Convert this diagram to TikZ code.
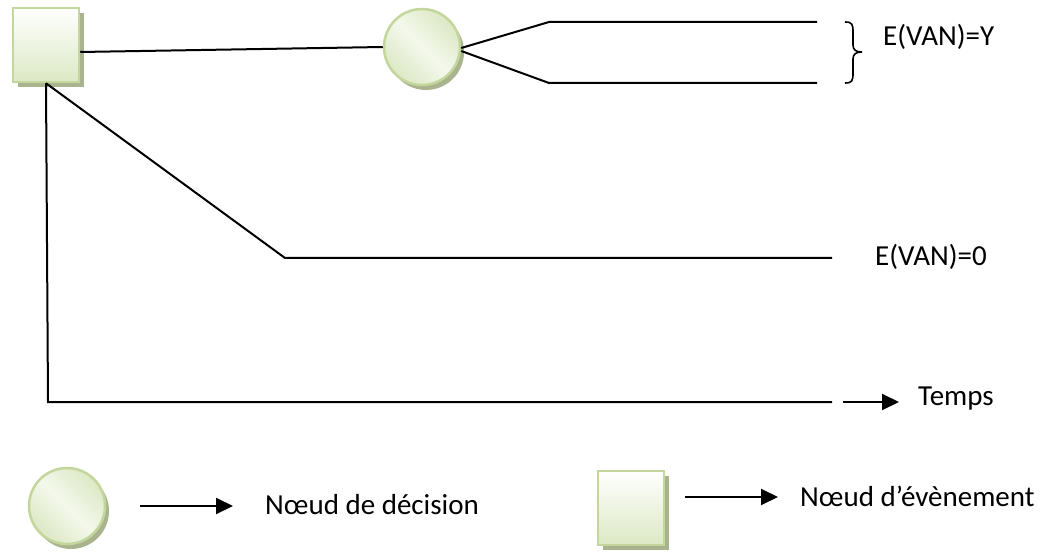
\documentclass[tikz,border=0pt]{standalone}
\usepackage{fontspec}
\setmainfont{Carlito}
\usetikzlibrary{arrows.meta,shadows}
\definecolor{gborder}{HTML}{C3D69B}
\definecolor{glight}{HTML}{F4F8EC}
\definecolor{gmid}{HTML}{DCE8C4}
\definecolor{gshadow}{HTML}{A9B48E}
\tikzset{
  evt/.style={draw=gborder, line width=2.5pt, minimum width=66pt, minimum height=74pt,
    inner sep=0pt, top color=white, bottom color=gmid,
    drop shadow={shadow xshift=5pt, shadow yshift=-5pt, fill=gshadow, opacity=1}},
  dec/.style={circle, draw=gborder, line width=2.5pt, minimum size=76pt, inner sep=0pt,
    shading=axis, left color=gmid, right color=gmid, middle color=glight, shading angle=135,
    drop shadow={shadow xshift=4pt, shadow yshift=-5pt, fill=gshadow, opacity=1}},
  ln/.style={line width=2pt, black},
  arr/.style={line width=2pt, black, -{Triangle[length=17pt, width=16pt]}},
  lbl/.style={font=\fontsize{29}{35}\selectfont, anchor=west, inner sep=0pt},
}
\begin{document}
\begin{tikzpicture}[x=1pt, y=-1pt]
\useasboundingbox (0,0) rectangle (1042,553);
% main tree
\node[evt] (sq) at (46,45) {};
\node[dec] (ci) at (422,47) {};
\coordinate (u1) at (549,22);
\coordinate (u2) at (817,22);
\coordinate (d1) at (549,83);
\coordinate (d2) at (817,83);
\draw[ln] ([yshift=-7pt]sq.east) -- (ci.west);
\draw[ln] ([yshift=-1pt]ci.east) -- (u1) -- (u2);
\draw[ln] ([yshift=-4pt]ci.east) -- (d1) -- (d2);
\draw[line width=1.6pt] (845,22) .. controls (852,22) and (853,24) .. (853,32)
  -- (853,45) .. controls (853,50) and (856,52) .. (862,52)
  .. controls (856,52) and (853,54) .. (853,59) -- (853,73)
  .. controls (853,81) and (852,83) .. (845,83);
\node[lbl] (ly) at (883,37) {E(VAN)=Y};
\coordinate (m1) at (285,258);
\coordinate (m2) at (832,258);
\draw[ln] (sq.south) -- (m1) -- (m2);
\node[lbl] (l0) at (875,257) {E(VAN)=0};
\coordinate (t0) at (48,402);
\coordinate (t1) at (832,402);
\coordinate (a0) at (843,402);
\coordinate (a1) at (899,402);
\draw[ln] (sq.south) -- (t0) -- (t1);
\node[lbl] (lt) at (918,399) {Temps};
\draw[arr] (a0) -- (a1);
% legend
\node[dec] (lc) at (67,506) {};
\node[lbl] (ld) at (265,505) {Nœud de décision};
\coordinate (b0) at (140,506);
\coordinate (b1) at (233,506);
\draw[arr] (b0) -- (b1);
\node[evt] (ls) at (631,508) {};
\node[lbl] (le) at (800,496) {Nœud d’évènement};
\coordinate (c0) at (685,497);
\coordinate (c1) at (778,497);
\draw[arr] (c0) -- (c1);
\end{tikzpicture}
\end{document}
